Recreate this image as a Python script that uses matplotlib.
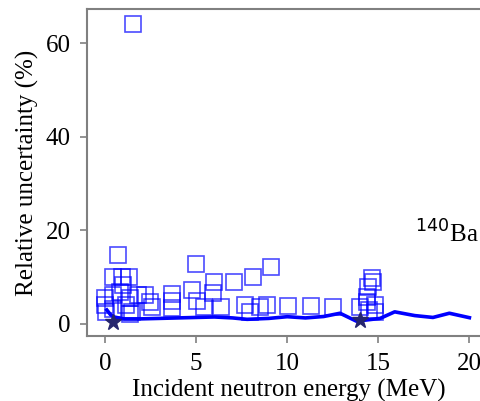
import numpy as np
import matplotlib
matplotlib.use("Agg")
import matplotlib.pyplot as plt

# Datos (energía en MeV, incertidumbre relativa en %)
exp_energy = [1.55, 0.73, 5.0, 9.1, 8.1, 7.1, 6.0,
              0.46, 0.92, 1.34, 0.97, 0.0, 0.44, 0.8, 1.35, 2.2, 2.45,
              0.07, 0.44, 1.17, 1.48, 0.0, 1.35, 1.83, 2.56,
              3.7, 3.7, 3.7, 4.76, 5.03, 5.43, 5.95, 6.37,
              7.7, 7.98, 8.5, 8.87, 10.06, 11.3, 12.5, 14.0,
              14.67, 14.73, 14.45, 14.36, 14.4, 14.8, 14.5, 14.8]
exp_unc = [64.1, 14.8, 12.9, 12.1, 10.0, 9.0, 9.0,
           10.0, 10.0, 10.0, 8.3, 5.5, 6.2, 6.9, 5.5, 6.2, 4.8,
           2.6, 3.3, 4.1, 2.6, 4.0, 2.1, 6.2, 3.6,
           6.4, 5.0, 3.5, 7.3, 5.0, 3.6, 6.7, 3.6,
           4.1, 2.6, 3.7, 4.1, 3.85, 3.85, 3.6, 3.7,
           9.9, 9.0, 8.0, 5.8, 4.8, 4.1, 3.0, 2.6]

eval_energy = [0.1, 0.3, 0.5, 1, 2, 3, 4, 5, 6, 7, 7.8, 9, 10, 11, 12, 12.9,
               13.8, 15.1, 15.9, 17, 18, 18.9, 20]
eval_unc = [3.0, 2.0, 1.5, 1.1, 1.1, 1.2, 1.3, 1.4, 1.5, 1.3, 1.0, 1.2, 1.56,
            1.3, 1.6, 2.3, 0.6, 1.2, 2.6, 1.8, 1.4, 2.3, 1.35]

star_energy = [0.44, 14.0]
star_unc = [0.5, 0.85]

plt.rcParams['font.family'] = ['Liberation Serif', 'DejaVu Serif']
plt.rcParams['mathtext.fontset'] = 'dejavusans'

fig = plt.figure(figsize=(4.81, 4.01), dpi=100)
ax = fig.add_axes([87.3 / 481, 1 - 336 / 401, (490 - 87.3) / 481, (336 - 9) / 401])

ax.plot(eval_energy, eval_unc, '-', color='#0000ff', lw=2.6, zorder=3)
ax.plot(exp_energy, exp_unc, 's', ms=12, mfc='none', mec='#0000ff',
        mew=1.2, alpha=0.7, zorder=2)
ax.plot(star_energy, star_unc, '*', ms=12, color='#25256e', zorder=4)

ax.text(17.0, 17.3, r'$^{140}$Ba', fontsize=18, va='baseline')

x_per_px = 1 / 18.22
ax.set_xlim(-(105 - 87.3) * x_per_px, (490 - 105) * x_per_px)
ax.set_ylim(-(336 - 324) / 4.678, (324 - 9) / 4.678)
ax.set_xticks([0, 5, 10, 15, 20])
ax.set_yticks([0, 20, 40, 60])

ax.set_xlabel('Incident neutron energy (MeV)', fontsize=18, labelpad=3)
ax.set_ylabel('Relative uncertainty (%)', fontsize=18, labelpad=5)
ax.tick_params(labelsize=18, color='#808080', length=5, width=1.2, pad=7)
for sp in ax.spines.values():
    sp.set_color('#808080')
    sp.set_linewidth(1.5)

fig.savefig('out.png', dpi=100)
